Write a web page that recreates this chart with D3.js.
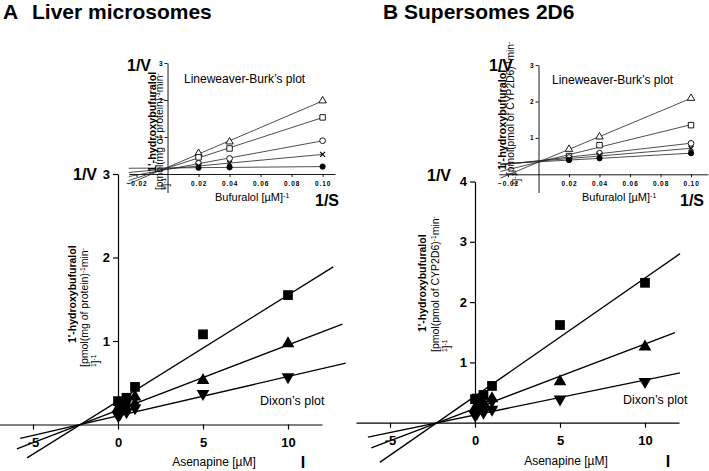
<!DOCTYPE html>
<html><head><meta charset="utf-8">
<script src="https://cdn.jsdelivr.net/npm/d3@7"></script>
<style>body{margin:0;background:#fff}svg{display:block}</style>
</head><body><svg id="c" width="709" height="471"></svg>
<script>
// ---------------- DATA ----------------
// Lineweaver-Burk insets: x = 1/[bufuralol] (µM^-1)
const lbInvS = [0.02, 0.04, 0.10];
const lbSeries = ["triangle", "square", "circle", "cross", "dot"];
const lbA_triangle = [0.56, 0.87, 1.98];
const lbA_square   = [0.45, 0.69, 1.53];
const lbA_circle   = [0.29, 0.42, 0.90];
const lbA_cross    = [0.22, 0.29, 0.53];
const lbA_dot      = [0.17, 0.18, 0.20];
const lbB_triangle = [0.69, 1.03, 2.09];
const lbB_square   = [0.50, 0.80, 1.35];
const lbB_circle   = [0.46, 0.58, 0.85];
const lbB_cross    = [0.42, 0.52, 0.71];
const lbB_dot      = [0.39, 0.44, 0.58];
const lbFitFrom = -0.025;

// Dixon plots: x = asenapine concentration (µM)
const dixonConc = [0, 0.1, 0.5, 1, 5, 10];
const dixonSeries = ["square", "triangle", "invTriangle", "diamond", "dot"];
const dixonA_square      = [0.28, 0.27, 0.32, 0.45, 1.08, 1.55];
const dixonA_triangle    = [0.19, 0.20, 0.25, 0.33, 0.53, 0.97];
const dixonA_invTriangle = [0.11, 0.12, 0.15, 0.20, 0.37, 0.57];
const dixonA_diamond     = [0.16, 0.17, 0.19, 0.25, null, null];
const dixonA_dot         = [0.14, 0.15, 0.18, null, null, null];
const dixonB_square      = [0.39, 0.40, 0.46, 0.61, 1.62, 2.32];
const dixonB_triangle    = [0.24, 0.26, 0.33, 0.40, 0.68, 1.26];
const dixonB_invTriangle = [0.13, 0.15, 0.17, 0.22, 0.39, 0.68];
const dixonB_diamond     = [0.20, 0.22, 0.26, 0.35, null, null];
const dixonB_dot         = [0.18, 0.19, 0.23, null, null, null];
// fitted Dixon lines (square, triangle, inverted triangle)
const dixonA_fitSlope     = [0.127, 0.078, 0.047];
const dixonA_fitIntercept = [0.280, 0.172, 0.104];
const dixonA_fitFrom      = [-5.35, -5.95, -5.75];
const dixonA_fitTo        = [12.66, 13.2, 13.4];
const dixonB_fitSlope     = [0.196, 0.107, 0.058];
const dixonB_fitIntercept = [0.440, 0.235, 0.128];
const dixonB_fitFrom      = [-5.6, -6.1, -6.3];
const dixonB_fitTo        = [12.06, 11.76, 12.06];

const dixonXTicks = [-5, 0, 5, 10];
const dixonAYTicks = [1, 2, 3];
const dixonBYTicks = [1, 2, 3, 4];
const lbXTicks = [-0.02, 0.02, 0.04, 0.06, 0.08, 0.10];
const lbYTicks = [1, 2, 3];

const titleA = ["A", "Liver microsomes"];
const titleB = "B Supersomes 2D6";
const yLabelA = "[pmol(mg of protein)";
const yLabelB = "[pmol(pmol of CYP2D6)";

// ---------------- DRAW ----------------
const FONT = "Arial, 'Liberation Sans', Helvetica, sans-serif";
const svg = d3.select("#c").attr("font-family", FONT);

function symPath(type, size) {
  if (type === "square") return d3.symbol(d3.symbolSquare, size)();
  if (type === "triangle" || type === "invTriangle") return d3.symbol(d3.symbolTriangle, size)();
  if (type === "diamond") return d3.symbol(d3.symbolDiamond, size)();
  if (type === "circle" || type === "dot") return d3.symbol(d3.symbolCircle, size)();
  if (type === "cross") { const r = Math.sqrt(size) / 2; return `M${-r},${-r}L${r},${r}M${-r},${r}L${r},${-r}`; }
}

function text(g, x, y, s, o = {}) {
  const t = g.append("text").attr("x", x).attr("y", y).text(s)
    .attr("font-size", o.size || 12).attr("font-weight", o.bold ? "bold" : "normal")
    .attr("text-anchor", o.anchor || "start").attr("fill", "#000");
  return t;
}

function rotLabel(g, x, y, parts, o = {}) {
  const t = g.append("text").attr("transform", `translate(${x},${y}) rotate(-90)`)
    .attr("font-size", o.size || 10.5).attr("font-weight", o.bold ? "bold" : "normal")
    .attr("text-anchor", o.anchor || "start");
  parts.forEach(([s, sup]) => {
    const ts = t.append("tspan").text(s);
    if (sup) ts.attr("font-size", (o.size || 10.5) * 0.62).attr("baseline-shift", "super");
  });
  return t;
}

function styleAxis(g, fs, bold, ls) {
  g.selectAll("path,line").attr("stroke", "#000").attr("stroke-width", 1.2);
  g.selectAll("text").attr("font-size", fs).attr("font-weight", bold ? "bold" : "normal")
    .attr("font-family", FONT).attr("fill", "#000");
  if (ls) g.selectAll("text").attr("letter-spacing", ls);
}

function dixonPanel(p) {
  const g = svg.append("g");
  const x = d3.scaleLinear().domain(p.xDom).range(p.xRange);
  const y = d3.scaleLinear().domain(p.yDom).range(p.yRange);
  const gx = g.append("g").attr("transform", `translate(0,${y(0)})`)
    .call(d3.axisBottom(x).tickValues(dixonXTicks).tickFormat(d => String(d)).tickSize(5).tickSizeOuter(0).tickPadding(8));
  styleAxis(gx, 13, true);
  const gy = g.append("g").attr("transform", `translate(${x(0)},0)`)
    .call(d3.axisLeft(y).tickValues(p.yTicks).tickFormat(d => String(d)).tickSize(5).tickSizeOuter(0).tickPadding(3));
  styleAxis(gy, 13, true);
  // fitted lines
  p.slope.forEach((s, i) => {
    const a = p.from[i], b = p.to[i], c = p.intercept[i];
    g.append("line").attr("x1", x(a)).attr("y1", y(c + s * a)).attr("x2", x(b)).attr("y2", y(c + s * b))
      .attr("stroke", "#000").attr("stroke-width", 1.3);
  });
  // markers
  const sizes = { square: 95, triangle: 70, invTriangle: 70, diamond: 55, dot: 45 };
  dixonSeries.forEach((type, si) => {
    p.series[si].forEach((v, i) => {
      if (v == null) return;
      const rot = type === "invTriangle" ? " rotate(180)" : "";
      g.append("path").attr("d", symPath(type, sizes[type]))
        .attr("transform", `translate(${x(dixonConc[i])},${y(v)})${rot}`).attr("fill", "#000");
    });
  });
}

function lbPanel(p) {
  const g = svg.append("g");
  const x = d3.scaleLinear().domain(p.xDom).range(p.xRange);
  const y = d3.scaleLinear().domain(p.yDom).range(p.yRange);
  const gx = g.append("g").attr("transform", `translate(0,${y(0)})`)
    .call(d3.axisBottom(x).tickValues(lbXTicks).tickFormat(d3.format(".2f")).tickSize(3).tickSizeOuter(0).tickPadding(4));
  styleAxis(gx, 6.5, true, 0.9);
  gx.selectAll("path,line").attr("stroke-width", 0.9);
  const gy = g.append("g").attr("transform", `translate(${x(0)},0)`)
    .call(d3.axisLeft(y).tickValues(lbYTicks).tickFormat(d => String(d)).tickSize(3).tickSizeOuter(0).tickPadding(2));
  styleAxis(gy, 6.5, true);
  gy.selectAll("path,line").attr("stroke-width", 0.9);
  const sizes = { triangle: 24, square: 30, circle: 26, cross: 24, dot: 22 };
  lbSeries.forEach((type, si) => {
    const ys = p.series[si];
    const mx = d3.mean(lbInvS), my = d3.mean(ys);
    const sxy = d3.sum(lbInvS, (v, i) => (v - mx) * (ys[i] - my));
    const sxx = d3.sum(lbInvS, v => (v - mx) * (v - mx));
    const b = sxy / sxx, a = my - b * mx;
    const xe = lbInvS[lbInvS.length - 1];
    g.append("line").attr("x1", x(lbFitFrom)).attr("y1", y(a + b * lbFitFrom))
      .attr("x2", x(xe)).attr("y2", y(a + b * xe)).attr("stroke", "#222").attr("stroke-width", 0.8);
  });
  lbSeries.forEach((type, si) => {
    p.series[si].forEach((v, i) => {
      const open = type !== "dot";
      g.append("path").attr("d", symPath(type, sizes[type]))
        .attr("transform", `translate(${x(lbInvS[i])},${y(v)})`)
        .attr("fill", open ? (type === "cross" ? "none" : "#fff") : "#000")
        .attr("stroke", "#000").attr("stroke-width", type === "cross" ? 1.2 : 0.9);
    });
  });
}

// Titles
text(svg, 3, 18.5, titleA[0], { size: 21, bold: true });
text(svg, 32, 18.5, titleA[1], { size: 21, bold: true });
text(svg, 383, 18.5, titleB, { size: 21, bold: true });

// Panel A
lbPanel({ xDom: [-0.025, 0.108], xRange: [128.75, 335], yDom: [-0.5, 3], yRange: [192.5, 63],
  series: [lbA_triangle, lbA_square, lbA_circle, lbA_cross, lbA_dot] });
dixonPanel({ xDom: [-7, 12], xRange: [-1, 322], yDom: [0, 3], yRange: [424.5, 174], yTicks: dixonAYTicks,
  series: [dixonA_square, dixonA_triangle, dixonA_invTriangle, dixonA_diamond, dixonA_dot],
  slope: dixonA_fitSlope, intercept: dixonA_fitIntercept, from: dixonA_fitFrom, to: dixonA_fitTo });

// Panel B
lbPanel({ xDom: [-0.026, 0.111], xRange: [498.85, 707.8], yDom: [-0.5, 3], yRange: [192.5, 65.1],
  series: [lbB_triangle, lbB_square, lbB_circle, lbB_cross, lbB_dot] });
dixonPanel({ xDom: [-7, 12], xRange: [356, 679], yDom: [0, 4], yRange: [422.7, 181.5], yTicks: dixonBYTicks,
  series: [dixonB_square, dixonB_triangle, dixonB_invTriangle, dixonB_diamond, dixonB_dot],
  slope: dixonB_fitSlope, intercept: dixonB_fitIntercept, from: dixonB_fitFrom, to: dixonB_fitTo });

// Annotations Panel A
text(svg, 127, 71, "1/V", { size: 16, bold: true });
text(svg, 73, 180, "1/V", { size: 16, bold: true });
text(svg, 184, 83, "Lineweaver-Burk’s plot", { size: 12 });
const bufA = text(svg, 215, 201, "Bufuralol [µM]", { size: 11 });
bufA.append("tspan").text("-1").attr("font-size", 7).attr("baseline-shift", "super");
text(svg, 315, 206, "1/S", { size: 16, bold: true });
text(svg, 260, 405, "Dixon’s plot", { size: 12.5 });
text(svg, 214, 466, "Asenapine [µM]", { size: 12, anchor: "middle" });
text(svg, 303, 468, "I", { size: 16, bold: true, anchor: "middle" });
rotLabel(svg, 156, 172, [["1'-hydroxybufuralol"]], { size: 10.8, bold: true });
rotLabel(svg, 163, 190, [[yLabelA], ["-1", true], ["min"], ["-", true]], { size: 10.3 });
rotLabel(svg, 169, 190, [["1", true], ["]"], ["-1", true]], { size: 10.3 });
rotLabel(svg, 76, 343, [["1'-hydroxybufuralol"]], { size: 10.5, bold: true });
rotLabel(svg, 88, 367, [[yLabelA], ["-1", true], ["min"], ["-", true]], { size: 10.5 });
rotLabel(svg, 99, 367, [["1", true], ["]"], ["-1", true]], { size: 10.5 });

// Annotations Panel B
text(svg, 489, 71, "1/V", { size: 16, bold: true });
text(svg, 427, 181, "1/V", { size: 16, bold: true });
text(svg, 552, 84, "Lineweaver-Burk’s plot", { size: 12 });
const bufB = text(svg, 582, 201, "Bufuralol [µM]", { size: 11 });
bufB.append("tspan").text("-1").attr("font-size", 7).attr("baseline-shift", "super");
text(svg, 680, 206, "1/S", { size: 16, bold: true });
text(svg, 623, 404, "Dixon’s plot", { size: 12.5 });
text(svg, 566, 465, "Asenapine [µM]", { size: 12, anchor: "middle" });
text(svg, 668, 467, "I", { size: 16, bold: true, anchor: "middle" });
rotLabel(svg, 506, 170, [["1'-hydroxybufuralol"]], { size: 10.8, bold: true });
rotLabel(svg, 514, 175, [[yLabelB], ["-1", true], ["min"], ["-", true]], { size: 10.3 });
rotLabel(svg, 520, 185, [["1", true], ["]"], ["-1", true]], { size: 10.3 });
rotLabel(svg, 426, 332, [["1'-hydroxybufuralol"]], { size: 10.5, bold: true });
rotLabel(svg, 439, 352, [[yLabelB], ["-1", true], ["min"], ["-", true]], { size: 10.5 });
rotLabel(svg, 450, 352, [["1", true], ["]"], ["-1", true]], { size: 10.5 });
</script></body></html>
